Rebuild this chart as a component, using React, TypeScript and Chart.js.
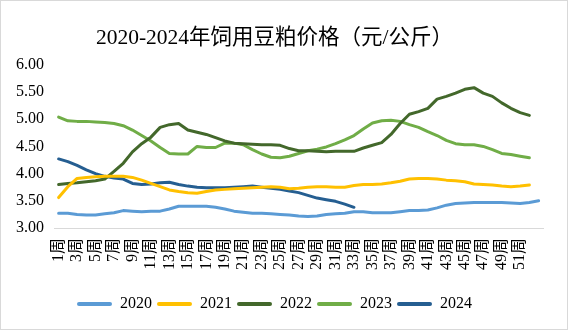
import React, { useEffect, useRef } from "react";
import { Chart, registerables } from "chart.js";

Chart.register(...registerables);

const weeks = [
  "1周", "2周", "3周", "4周", "5周", "6周", "7周", "8周", "9周", "10周",
  "11周", "12周", "13周", "14周", "15周", "16周", "17周", "18周", "19周", "20周",
  "21周", "22周", "23周", "24周", "25周", "26周", "27周", "28周", "29周", "30周",
  "31周", "32周", "33周", "34周", "35周", "36周", "37周", "38周", "39周", "40周",
  "41周", "42周", "43周", "44周", "45周", "46周", "47周", "48周", "49周", "50周",
  "51周", "52周", "53周",
];

const yTicks = [3.0, 3.5, 4.0, 4.5, 5.0, 5.5, 6.0];

const s2020 = [
  3.27, 3.27, 3.25, 3.24, 3.24, 3.26, 3.28, 3.32, 3.31, 3.30,
  3.31, 3.31, 3.35, 3.40, 3.40, 3.40, 3.40, 3.38, 3.35, 3.31,
  3.29, 3.27, 3.27, 3.26, 3.25, 3.24, 3.22, 3.21, 3.22, 3.25,
  3.26, 3.27, 3.30, 3.30, 3.28, 3.28, 3.28, 3.30, 3.32, 3.32,
  3.33, 3.37, 3.42, 3.45, 3.46, 3.47, 3.47, 3.47, 3.47, 3.46,
  3.45, 3.47, 3.50,
];

const s2021 = [
  3.56, 3.76, 3.91, 3.93, 3.94, 3.95, 3.95, 3.95, 3.93, 3.88,
  3.82, 3.76, 3.70, 3.67, 3.65, 3.64, 3.67, 3.70, 3.71, 3.72,
  3.73, 3.74, 3.75, 3.76, 3.75, 3.72, 3.73, 3.75, 3.76, 3.76,
  3.75, 3.75, 3.78, 3.80, 3.80, 3.81, 3.83, 3.86, 3.90, 3.91,
  3.91, 3.90, 3.88, 3.87, 3.85, 3.81, 3.80, 3.79, 3.77, 3.76,
  3.77, 3.79,
];

const s2022 = [
  3.80, 3.82, 3.83, 3.85, 3.87, 3.90, 4.04, 4.19, 4.40, 4.55,
  4.67, 4.85, 4.90, 4.92, 4.80, 4.76, 4.72, 4.66, 4.60, 4.56,
  4.55, 4.54, 4.53, 4.53, 4.52, 4.46, 4.42, 4.42, 4.41, 4.40,
  4.41, 4.41, 4.41, 4.47, 4.52, 4.57, 4.72, 4.92, 5.09, 5.14,
  5.20, 5.37, 5.42, 5.48, 5.55, 5.58, 5.48, 5.42, 5.30, 5.20,
  5.12, 5.07,
];

const s2023 = [
  5.04, 4.97, 4.96, 4.96, 4.95, 4.94, 4.92, 4.88, 4.80, 4.70,
  4.60, 4.48, 4.37, 4.36, 4.36, 4.50, 4.48, 4.48, 4.56, 4.56,
  4.53, 4.44, 4.36, 4.30, 4.29, 4.32, 4.37, 4.42, 4.45, 4.49,
  4.55, 4.62, 4.70, 4.82, 4.93, 4.97, 4.98, 4.96, 4.90, 4.85,
  4.77, 4.70, 4.61, 4.55, 4.53, 4.53, 4.50, 4.44, 4.37, 4.35,
  4.32, 4.29,
];

const s2024 = [
  4.27, 4.22, 4.15, 4.07, 4.00, 3.95, 3.92, 3.90, 3.82, 3.80,
  3.81, 3.83, 3.84, 3.80, 3.77, 3.75, 3.74, 3.74, 3.74, 3.75,
  3.76, 3.77, 3.75, 3.73, 3.71, 3.68, 3.65, 3.60, 3.55, 3.52,
  3.49, 3.44, 3.38,
];

const seriesNames = ["2020", "2021", "2022", "2023", "2024"];
const seriesColors = ["#5B9BD5", "#FFC000", "#43682B", "#70AD47", "#255E91"];
const seriesData = [s2020, s2021, s2022, s2023, s2024];

const FONT = "'Liberation Serif', 'Noto Sans CJK SC', serif";

const borderPlugin = {
  id: "outerBorder",
  afterDraw(chart: any) {
    const ctx = chart.ctx;
    ctx.save();
    ctx.strokeStyle = "#d9d9d9";
    ctx.lineWidth = 1;
    ctx.strokeRect(0.5, 0.5, chart.width - 1, chart.height - 1);
    ctx.restore();
  },
};

export default function App() {
  const ref = useRef<HTMLCanvasElement | null>(null);

  useEffect(() => {
    document.body.style.margin = "0";
    document.body.style.overflow = "hidden";
    if (!ref.current) return;
    const chart = new Chart(ref.current, {
      type: "line",
      data: {
        labels: weeks,
        datasets: seriesNames.map((name, i) => ({
          label: name,
          data: seriesData[i],
          borderColor: seriesColors[i],
          backgroundColor: seriesColors[i],
          borderWidth: 3,
          pointRadius: 0,
          pointHoverRadius: 0,
          tension: 0,
          borderJoinStyle: "round" as const,
          borderCapStyle: "round" as const,
          fill: false,
        })),
      },
      options: {
        animation: false,
        responsive: false,
        devicePixelRatio: 1,
        layout: { padding: { left: 0, right: 19, top: 0, bottom: 8 } },
        plugins: {
          title: {
            display: true,
            text: "2020-2024年饲用豆粕价格（元/公斤）",
            color: "#000",
            font: { family: FONT, size: 21.5, weight: "normal" },
            padding: { top: 25, bottom: 14 },
          },
          legend: {
            display: true,
            position: "bottom",
            labels: {
              color: "#000",
              font: { family: FONT, size: 16 },
              boxWidth: 35,
              boxHeight: 4,
              padding: 5,
              useBorderRadius: true,
              borderRadius: 2,
              generateLabels: (c: any) =>
                Chart.defaults.plugins.legend.labels
                  .generateLabels(c)
                  .map((l: any) => ({ ...l, lineWidth: 0, borderRadius: 2 })),
            },
          },
          tooltip: { enabled: false },
        },
        scales: {
          x: {
            type: "category",
            offset: true,
            grid: { display: false, drawTicks: false },
            border: { display: true, color: "#d9d9d9", width: 1 },
            ticks: {
              autoSkip: false,
              minRotation: 90,
              maxRotation: 90,
              padding: 10,
              color: "#000",
              font: { family: FONT, size: 16 },
              callback: (_v: any, idx: number) =>
                idx % 2 === 0 && idx < 52 ? weeks[idx] : "",
            },
            afterFit: (s: any) => {
              s.height = 63;
            },
          },
          y: {
            min: yTicks[0],
            max: yTicks[yTicks.length - 1],
            grid: { display: false, drawTicks: false },
            border: { display: false },
            afterBuildTicks: (s: any) => {
              s.ticks = yTicks.map((v) => ({ value: v }));
            },
            ticks: {
              padding: 10,
              color: "#000",
              font: { family: FONT, size: 16 },
              callback: (v: any) => Number(v).toFixed(2),
            },
            afterFit: (s: any) => {
              s.width = 54;
            },
          },
        },
      },
      plugins: [borderPlugin],
    } as any);
    return () => chart.destroy();
  }, []);

  return <canvas ref={ref} width={568} height={330} style={{ display: "block" }} />;
}
